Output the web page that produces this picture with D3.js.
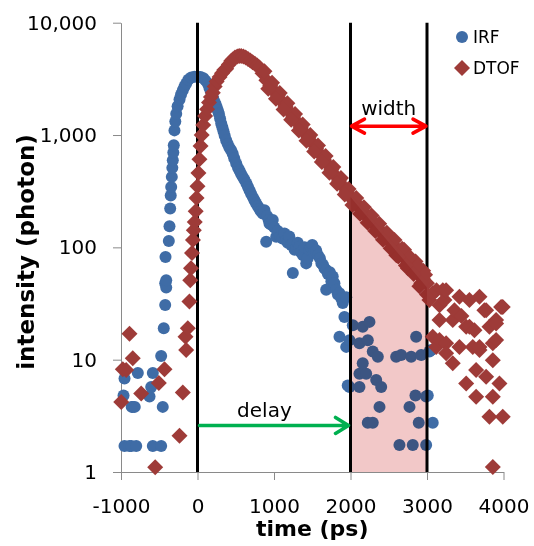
<!DOCTYPE html>
<html>
<head>
<meta charset="utf-8">
<script src="https://cdn.jsdelivr.net/npm/d3@7"></script>
<style>
  body { margin: 0; background: #fff; }
  svg { font-family: "DejaVu Sans", sans-serif; }
</style>
</head>
<body>
<div id="chart"></div>
<script>
// IRF (instrument response), time in ps and photon counts
var irfTime = [-967, -954, -954, -889, -866, -860, -846, -820, -801, -780, -627, -605, -584, -584, -475, -475, -454, -441, -422, -422, -418, -409, -409,
  -375, -366, -357, -350, -344, -336, -329, -323, -316, -310, -301, -290, -278, -260, -235, -215, -192, -170, -148, -120, -82, -40, 4, 40, 78, 105,
  135, 155, 170, 185, 200, 215, 235, 250, 265, 280, 295, 310, 325, 340, 355, 375, 395, 418, 440, 460, 480, 506, 530, 550, 570, 592, 614, 640, 660,
  680, 700, 723, 745, 767, 790, 810, 830, 853, 876, 898, 910, 930, 941, 960, 984, 1005, 1029, 1050, 1080, 1110, 1137, 1160, 1180, 1200, 1225, 1246,
  1246, 1270, 1290, 1310, 1333, 1355, 1380, 1400, 1421, 1440, 1460, 1480, 1500, 1520, 1551, 1575, 1600, 1620, 1640, 1660, 1682, 1682, 1705, 1730,
  1750, 1768, 1790, 1813, 1835, 1856, 1856, 1880, 1899, 1921, 1944, 1944, 1964, 1987, 1987, 2030, 2117, 2117, 2117, 2160, 2160, 2205, 2226, 2226,
  2248, 2291, 2291, 2336, 2357, 2379, 2401, 2597, 2640, 2662, 2771, 2793, 2814, 2849, 2858, 2892, 2924, 2989, 2989, 3010, 3032, 3054, 3075];
var irfCount = [4.8, 6.8, 1.7, 1.7, 1.7, 3.8, 3.8, 3.8, 1.7, 7.6, 4.7, 5.7, 7.6, 1.7, 1.7, 10.8, 3.8, 19, 30.6, 48, 82, 44, 51,
  114, 154, 222, 290, 345, 424, 510, 597, 700, 811, 1100, 1320, 1550, 1800, 2070, 2300, 2500, 2700, 2870, 3100, 3250, 3300, 3300, 3280, 3200, 3050,
  2870, 2650, 2500, 2330, 2180, 2030, 1900, 1780, 1660, 1550, 1400, 1265, 1170, 1080, 990, 900, 830, 770, 733, 680, 620, 557, 510, 480, 450, 424, 400, 370, 345,
  323, 300, 280, 262, 246, 232, 220, 210, 200, 214, 112, 190, 175, 163, 160, 175, 150, 124, 140, 125, 120, 133, 115, 110, 125, 105, 108,
  59, 95, 100, 110, 101, 90, 85, 100, 72, 80, 95, 100, 105, 90, 94, 85, 80, 72, 70, 65, 63, 42, 58, 60,
  50, 55, 48, 42, 38, 39, 16, 35, 32, 24, 36, 13, 5.9, 14.9, 5.7, 20.3, 14, 7.5, 5.7, 19.6, 9.3, 7.5, 14.9, 2.75,
  21.7, 11.8, 2.75, 6.6, 10.6, 3.8, 5.7, 10.6, 1.74, 11, 3.8, 10.6, 1.74, 4.8, 16, 2.75, 11, 4.7, 1.74, 4.8, 11.8, 12.2, 2.75];

// DTOF (distribution of times of flight)
var dtofTime = [-997, -976, -932, -889, -846, -736, -553, -506, -431, -235, -192, -157, -148, -127, -105,
  -95, -85, -72, -60, -48, -36, -24, -12, 0, 12, 25, 40, 55, 75, 100, 125, 150, 175, 200, 225, 250, 288, 320, 350, 375, 410, 440, 461, 490,
  520, 545, 571, 600, 630, 660, 690, 720, 750, 780, 810, 850, 900, 950, 1000, 1050, 1100, 1150, 1200, 1250, 1300, 1350, 1400, 1450, 1500,
  1550, 1600, 1650, 1700, 1750, 1800, 1850, 1900, 1950, 2000, 2050, 2100, 2150, 2200, 2250, 2300, 2350, 2400, 2450, 2500, 2550, 2600, 2600,
  2650, 2700, 2700, 2750, 2750, 2800, 2850, 2850, 2900, 2900, 2950, 2950, 3000, 3000,
  3032, 3075, 3075, 3120, 3124, 3163, 3163, 3163, 3207, 3228, 3250, 3250, 3250, 3337, 3337, 3359, 3424, 3424, 3450, 3512, 3512, 3555, 3555,
  3598, 3620, 3642, 3642, 3686, 3686, 3686, 3750, 3773, 3773, 3816, 3816, 3860, 3860, 3860, 3860, 3904, 3904, 3904, 3947, 3969, 3990, 3990];
var dtofCount = [4.2, 8.2, 8.1, 17, 10.3, 5.0, 1.1, 6.2, 8.2, 2.1, 5.1, 16, 12.2, 19, 33,
  51, 65, 89, 116, 142, 168, 210, 275, 350, 460, 610, 800, 1000, 1230, 1480, 1700, 1950, 2180, 2380, 2700, 3000, 3290, 3550, 3800, 3900, 4250, 4550, 4700, 4900,
  5000, 5050, 5050, 5000, 4900, 4750, 4600, 4450, 4300, 4150, 4000, 3550, 3070, 2750, 2480, 2240, 2000, 1800, 1620, 1450, 1300, 1170, 1050, 945, 850,
  760, 680, 610, 550, 490, 437, 390, 350, 313, 280, 257, 234, 214, 195, 178, 164, 151, 138, 126, 115, 106, 98, 85,
  89, 81, 95, 75, 65, 69, 62, 75, 57, 45, 52, 62, 48, 38,
  34, 39, 16, 13, 41.6, 22.5, 30.5, 15, 41.6, 34, 41.6, 14, 11.4, 22.5, 9.3, 27.6, 36.3, 13, 24.5, 19.6, 6.15, 34, 19.6,
  13, 18.3, 4.68, 8.1, 36.3, 12.2, 13, 27.6, 7.05, 27.6, 19.6, 3.1, 14, 4.68, 1.11, 9.9, 22.5, 21, 15, 6.15, 29.5, 29.5, 3.1];
// DTOF points on the upper and lower edge of the noisy decay band
var dtofBandTime = [875, 975, 1075, 1175, 1275, 1375, 1475, 1575, 1675, 1775, 1875, 1975, 2075, 2175, 2275, 2375, 2475, 2575, 2675, 2775, 2875, 2975,
  925, 1025, 1125, 1225, 1325, 1425, 1525, 1625, 1725, 1825, 1925, 2025, 2125, 2225, 2325, 2425, 2525, 2625, 2725, 2825, 2925];
var dtofBandCount = [3700, 2920, 2370, 1920, 1540, 1240, 1000, 805, 650, 520, 415, 330, 275, 228, 192, 162, 135, 116, 97, 82, 68, 57,
  2580, 2100, 1690, 1370, 1100, 890, 715, 575, 462, 368, 295, 238, 199, 166, 140, 117, 98, 83, 69, 58, 48];

// markers / annotations
var markerTimes = [0, 2000, 3000];
var shadeTime = [2000, 3000];
var shadeTop = [280, 44];
var xTicks = [-1000, 0, 1000, 2000, 3000, 4000];
var yTicks = [1, 10, 100, 1000, 10000];
var seriesNames = ["IRF", "DTOF"];

var blue = "#3F6CA6", red = "#9E3B38";

var W = 534, H = 546;
var margin = {top: 22.7, left: 121, right: 30.5, bottom: 74};

var x = d3.scaleLinear().domain([-1000, 4000]).range([margin.left, W - margin.right]);
var y = d3.scaleLog().domain([1, 10000]).range([H - margin.bottom, margin.top]);

var svg = d3.select("#chart").append("svg")
    .attr("width", W)
    .attr("height", H);

var irf = irfTime.map(function(t, i) { return {t: t, v: irfCount[i]}; });
var dtof = dtofTime.map(function(t, i) { return {t: t, v: dtofCount[i]}; })
    .concat(dtofBandTime.map(function(t, i) { return {t: t, v: dtofBandCount[i]}; }));

// axes
var yAxis = svg.append("g")
    .attr("transform", "translate(" + margin.left + ",0)")
    .call(d3.axisLeft(y).tickValues(yTicks).tickFormat(d3.format(",")).tickSize(8).tickSizeOuter(0).tickPadding(16));
var xAxis = svg.append("g")
    .attr("transform", "translate(0," + (H - margin.bottom) + ")")
    .call(d3.axisBottom(x).tickValues(xTicks).tickFormat(function(d) { return String(d); }).tickSize(8).tickSizeOuter(0).tickPadding(19));
[yAxis, xAxis].forEach(function(a) {
    a.selectAll("path, line").attr("stroke", "#8a8a8a");
    a.selectAll("text").attr("font-size", 20).attr("fill", "#000").attr("font-family", "DejaVu Sans");
});

// IRF circles
svg.append("g").selectAll("circle")
    .data(irf)
    .join("circle")
    .attr("cx", function(d) { return x(d.t); })
    .attr("cy", function(d) { return y(d.v); })
    .attr("r", 6)
    .attr("fill", blue);

// vertical marker lines
svg.append("g").selectAll("line")
    .data(markerTimes)
    .join("line")
    .attr("x1", function(d) { return x(d); })
    .attr("x2", function(d) { return x(d); })
    .attr("y1", y(1))
    .attr("y2", y(10000))
    .attr("stroke", "#000")
    .attr("stroke-width", 3);

// DTOF diamonds
var diamond = d3.symbol().type(d3.symbolSquare).size(128);
svg.append("g").selectAll("path")
    .data(dtof)
    .join("path")
    .attr("d", diamond)
    .attr("transform", function(d) { return "translate(" + x(d.t) + "," + y(d.v) + ") rotate(45)"; })
    .attr("fill", red);

// shaded width region
var shade = [[shadeTime[0], 1], [shadeTime[0], shadeTop[0]], [shadeTime[1], shadeTop[1]], [shadeTime[1], 1]];
svg.append("path")
    .attr("d", d3.line().x(function(d) { return x(d[0]); }).y(function(d) { return y(d[1]); })(shade) + "Z")
    .attr("fill", "#F2C8C8")
    .style("mix-blend-mode", "multiply");

// width arrow
var wy = y(1200), wx0 = x(2000) + 1, wx1 = x(3000) - 1;
svg.append("path")
    .attr("d", "M" + wx0 + "," + wy + "H" + wx1 +
        "M" + (wx0 + 13) + "," + (wy - 7) + "L" + wx0 + "," + wy + "L" + (wx0 + 13) + "," + (wy + 7) +
        "M" + (wx1 - 13) + "," + (wy - 7) + "L" + wx1 + "," + wy + "L" + (wx1 - 13) + "," + (wy + 7))
    .attr("fill", "none")
    .attr("stroke", "#FF0000")
    .attr("stroke-width", 3.5)
    .attr("stroke-linecap", "round")
    .attr("stroke-linejoin", "round");
svg.append("text")
    .attr("x", x(2500))
    .attr("y", y(1500))
    .attr("text-anchor", "middle")
    .attr("font-size", 20)
    .text("width");

// delay arrow
var dy = y(2.6), dx0 = x(0) + 2, dx1 = x(2000) - 2;
svg.append("path")
    .attr("d", "M" + dx0 + "," + dy + "H" + dx1 +
        "M" + (dx1 - 13) + "," + (dy - 8) + "L" + dx1 + "," + dy + "L" + (dx1 - 13) + "," + (dy + 8))
    .attr("fill", "none")
    .attr("stroke", "#00B050")
    .attr("stroke-width", 3.5)
    .attr("stroke-linecap", "round")
    .attr("stroke-linejoin", "round");
svg.append("text")
    .attr("x", x(875))
    .attr("y", y(3.1))
    .attr("text-anchor", "middle")
    .attr("font-size", 20)
    .text("delay");

// axis titles
svg.append("text")
    .attr("x", x(1500))
    .attr("y", 536)
    .attr("text-anchor", "middle")
    .attr("font-size", 22)
    .attr("font-weight", "bold")
    .text("time (ps)");
svg.append("text")
    .attr("transform", "translate(34,252) rotate(-90)")
    .attr("text-anchor", "middle")
    .attr("font-size", 23)
    .attr("font-weight", "bold")
    .text("intensity (photon)");

// legend
var legend = svg.append("g").attr("transform", "translate(462,0)");
legend.append("circle").attr("cx", 0).attr("cy", 37).attr("r", 6).attr("fill", blue);
legend.append("path").attr("d", diamond).attr("transform", "translate(0,68) rotate(45)").attr("fill", red);
legend.selectAll("text")
    .data(seriesNames)
    .join("text")
    .attr("x", 11)
    .attr("y", function(d, i) { return 43 + i * 31; })
    .attr("font-size", 17)
    .text(function(d) { return d; });
</script>
</body>
</html>
